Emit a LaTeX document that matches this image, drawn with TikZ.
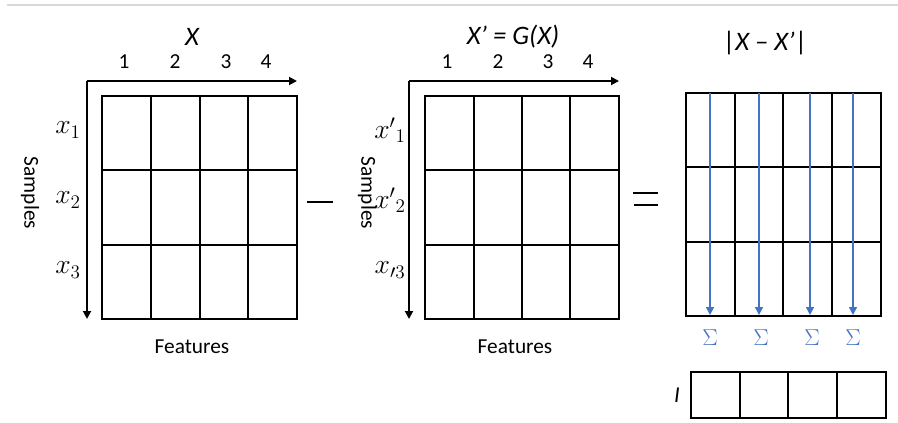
\documentclass[tikz,border=0pt]{standalone}
\usepackage{fontspec}
\setmainfont{Carlito}
\usepackage{xcolor}
\usetikzlibrary{positioning, calc, arrows.meta}
\definecolor{sumblue}{HTML}{4472C4}
\definecolor{rulegray}{HTML}{D9D9D9}
\tikzset{
    cell/.style={line width=1.1pt},
    axis/.style={-{Triangle[length=6pt, width=6pt]}, line width=1.4pt},
    sumarrow/.style={-{Triangle[length=6pt, width=6pt]}, line width=1.1pt, sumblue},
    numlbl/.style={font=\fontsize{16}{19}\selectfont},
    rowlbl/.style={font=\fontsize{21}{25}\selectfont},
    axlbl/.style={font=\fontsize{16}{19}\selectfont},
    ttl/.style={font=\fontsize{20}{24}\selectfont\itshape},
    sumlbl/.style={sumblue, font=\fontsize{18}{21}\selectfont},
    opline/.style={line width=2.2pt}
}

\begin{document}
\begin{tikzpicture}[x=0.75pt, y=-0.75pt, >=stealth]
    \useasboundingbox (0,0) rectangle (898,422);

    % Top rule
    \coordinate (ruleL) at (7,5);
    \coordinate (ruleR) at (898,5);
    \draw[rulegray, line width=1.5pt] (ruleL) -- (ruleR);

    % Matrix X
    \draw[cell] (102,96) rectangle (297,319);
    \foreach \c in {151,200,248} \draw[cell] (\c,96) -- (\c,319);
    \foreach \r in {170,245} \draw[cell] (102,\r) -- (297,\r);

    % Axes of X
    \coordinate (origA) at (87,81);
    \coordinate (featA) at (297,81);
    \coordinate (sampA) at (87,319);
    \draw[axis] (origA) -- (featA);
    \draw[axis] (origA) -- (sampA);

    % Labels of X
    \node[ttl] (titleA) at (192,37) {X};
    \node[numlbl] (colA1) at (124,62) {1};
    \node[numlbl] (colA2) at (175,62) {2};
    \node[numlbl] (colA3) at (226,62) {3};
    \node[numlbl] (colA4) at (266,62) {4};
    \node[rowlbl] (rowA1) at (68,130) {$x_1$};
    \node[rowlbl] (rowA2) at (68,200) {$x_2$};
    \node[rowlbl] (rowA3) at (68,270) {$x_3$};
    \node[axlbl, rotate=-90] (sampleA) at (30,193) {Samples};
    \node[axlbl] (featureA) at (192,347) {Features};

    % Minus sign
    \coordinate (minusL) at (307,202);
    \coordinate (minusR) at (333,202);
    \draw[opline] (minusL) -- (minusR);

    % Matrix X'
    \draw[cell] (425,96) rectangle (619,319);
    \foreach \c in {474,522,570} \draw[cell] (\c,96) -- (\c,319);
    \foreach \r in {170,245} \draw[cell] (425,\r) -- (619,\r);

    % Axes of X'
    \coordinate (origB) at (409,81);
    \coordinate (featB) at (619,81);
    \coordinate (sampB) at (409,319);
    \draw[axis] (origB) -- (featB);
    \draw[axis] (origB) -- (sampB);

    % Labels of X'
    \node[ttl] (titleB) at (513,37) {X’ = G(X)};
    \node[numlbl] (colB1) at (447,62) {1};
    \node[numlbl] (colB2) at (498,62) {2};
    \node[numlbl] (colB3) at (548,62) {3};
    \node[numlbl] (colB4) at (588,62) {4};
    \node[rowlbl] (rowB1) at (390,130) {$x'{}_1$};
    \node[rowlbl] (rowB2) at (390,200) {$x'{}_2$};
    \node[rowlbl] (rowB3) at (390,270) {$x_{\prime 3}$};
    \node[axlbl, rotate=-90] (sampleB) at (367,193) {Samples};
    \node[axlbl] (featureB) at (515,347) {Features};

    % Equals sign
    \coordinate (eqAL) at (633,193);
    \coordinate (eqAR) at (658,193);
    \coordinate (eqBL) at (634,205);
    \coordinate (eqBR) at (658,205);
    \draw[opline] (eqAL) -- (eqAR);
    \draw[opline] (eqBL) -- (eqBR);

    % Matrix |X - X'|
    \draw[cell] (686,93) rectangle (881,316);
    \foreach \c in {735,783,832} \draw[cell] (\c,93) -- (\c,316);
    \foreach \r in {167,242} \draw[cell] (686,\r) -- (881,\r);
    \node[ttl] (titleC) at (765,43) {\upshape|\itshape X – X’\upshape|};

    % Column sums
    \foreach \x [count=\i] in {710,759,810,853} {
        \coordinate (sumtop\i) at (\x,93);
        \coordinate (sumbot\i) at (\x,315);
        \draw[sumarrow] (sumtop\i) -- (sumbot\i);
    }
    \node[sumlbl] (sig1) at (710,338) {$\Sigma$};
    \node[sumlbl] (sig2) at (761,338) {$\Sigma$};
    \node[sumlbl] (sig3) at (812,338) {$\Sigma$};
    \node[sumlbl] (sig4) at (853,338) {$\Sigma$};

    % Vector I
    \draw[cell] (691,372) rectangle (886,418);
    \foreach \c in {740,788,837} \draw[cell] (\c,372) -- (\c,418);
    \node[axlbl, font=\fontsize{17}{20}\selectfont\itshape] (vecI) at (677,395) {I};

\end{tikzpicture}
\end{document}
